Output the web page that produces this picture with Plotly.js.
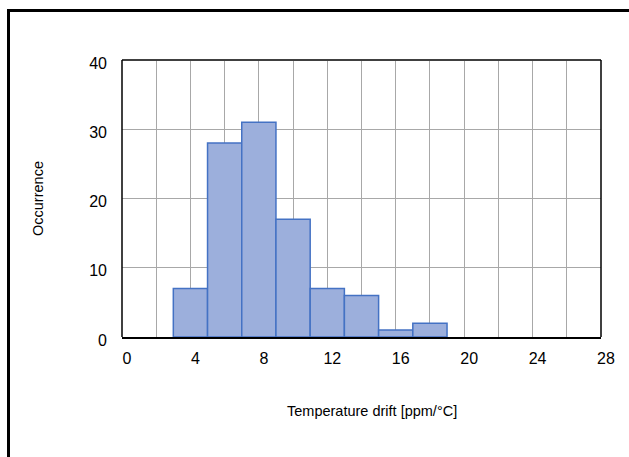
<!DOCTYPE html>
<html>
<head>
<meta charset="utf-8">
<script src="https://cdn.plot.ly/plotly-3.0.1.min.js"></script>
<style>html,body{margin:0;padding:0;background:#fff;}#chart{width:629px;height:457px;}</style>
</head>
<body>
<div id="chart"></div>
<script>
// Histogram of temperature drift (bin centres, bin width 2 ppm/°C)
const binCenters = [4, 6, 8, 10, 12, 14, 16, 18];
const counts = [7, 28, 31, 17, 7, 6, 1, 2];
const xTickVals = [0, 4, 8, 12, 16, 20, 24, 28];
const yTickVals = [0, 10, 20, 30, 40];
const xTitle = 'Temperature drift [ppm/°C]';
const yTitle = 'Occurrence';

const W = 629, H = 457;
const M = {l: 122, r: 28, t: 60, b: 120};
const pw = W - M.l - M.r, ph = H - M.t - M.b;
const px2paper = px => (px - M.l) / pw;
const py2paper = py => (H - M.b - py) / ph;

const fam = 'Liberation Sans, Arial, sans-serif';
const tickFont = {family: fam, size: 16, color: '#000'};
const titleFont = {family: fam, size: 14.5, color: '#000'};
const grid = '#a8a8a8';

const trace = {
  type: 'bar',
  x: binCenters,
  y: counts,
  width: 2,
  marker: {color: '#9cafdc', line: {color: '#4472c4', width: 1.5}},
  hoverinfo: 'x+y'
};

const layout = {
  width: W, height: H,
  margin: M,
  paper_bgcolor: '#fff',
  plot_bgcolor: '#fff',
  showlegend: false,
  font: titleFont,
  bargap: 0,
  xaxis: {
    range: [0, 28],
    tickvals: xTickVals,
    ticktext: xTickVals.map(String),
    showgrid: true,
    gridcolor: grid,
    gridwidth: 1,
    ticks: '',
    showline: true,
    linecolor: '#000',
    linewidth: 2,
    zeroline: false,
    ticklabelstandoff: 6,
    ticklabelshift: 5,
    tickfont: tickFont,
    minor: {dtick: 2, tick0: 0, showgrid: true, gridcolor: grid, gridwidth: 1}
  },
  yaxis: {
    range: [0, 40],
    tickvals: yTickVals,
    showgrid: true,
    gridcolor: grid,
    gridwidth: 1,
    ticks: '',
    showline: false,
    zeroline: false,
    ticklabelstandoff: 14,
    ticklabelshift: 3,
    tickfont: tickFont,
    title: {text: yTitle, font: titleFont, standoff: 42}
  },
  annotations: [
    {text: xTitle, xref: 'paper', yref: 'paper', x: px2paper(372), y: py2paper(411),
     xanchor: 'center', yanchor: 'middle', showarrow: false, font: titleFont}
  ],
  shapes: [
    // plot area border
    {type: 'line', xref: 'paper', yref: 'paper', x0: 0, x1: 1, y0: 1, y1: 1, line: {color: '#404040', width: 2}},
    {type: 'line', xref: 'paper', yref: 'paper', x0: 1, x1: 1, y0: 0, y1: 1, line: {color: '#000', width: 1.5}},
    {type: 'line', xref: 'paper', yref: 'paper', x0: 0, x1: 0, y0: 0, y1: 1, line: {color: '#000', width: 1.5}},
    // outer frame (cropped at right and bottom)
    {type: 'rect', xref: 'paper', yref: 'paper',
     x0: px2paper(8.5), x1: px2paper(W + 20), y0: py2paper(H + 20), y1: py2paper(10.5),
     line: {color: '#000', width: 3}, fillcolor: 'rgba(0,0,0,0)'}
  ]
};

Plotly.newPlot('chart', [trace], layout, {displayModeBar: false, staticPlot: true});
</script>
</body>
</html>
